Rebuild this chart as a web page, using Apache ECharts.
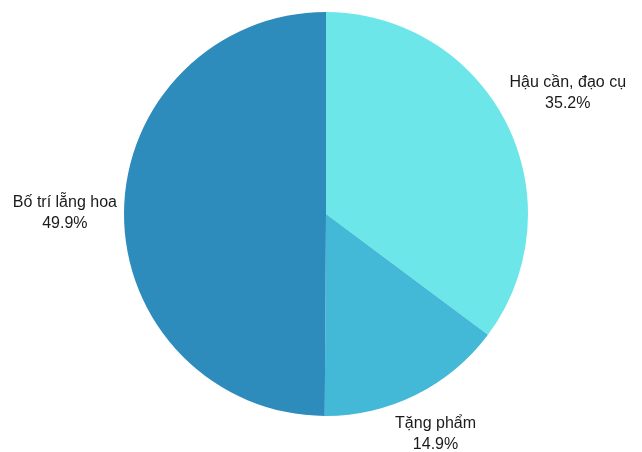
<!DOCTYPE html>
<html>
<head>
<meta charset="utf-8">
<script src="https://cdn.jsdelivr.net/npm/echarts@6/dist/echarts.min.js"></script>
<style>
  html, body { margin: 0; padding: 0; background: #fff; }
  #chart { width: 642px; height: 452px; }
</style>
</head>
<body>
<div id="chart"></div>
<script>
const categories = ['Hậu cần, đạo cụ', 'Tặng phẩm', 'Bố trí lẵng hoa'];
const shares = [35.2, 14.9, 49.9];
const colors = ['#6de6ea', '#43b8d7', '#2e8cbc'];

const cx = 326, cy = 214, r = 202;
const total = shares.reduce((a, b) => a + b, 0);

// mid angle of each slice, clockwise from 12 o'clock
const midAngles = [];
let acc = 0;
shares.forEach(v => {
  midAngles.push((acc + v / 2) / total * Math.PI * 2);
  acc += v;
});

const chart = echarts.init(document.getElementById('chart'));
chart.setOption({
  animation: false,
  color: colors,
  series: [{
    type: 'pie',
    center: [cx, cy],
    radius: r,
    startAngle: 90,
    clockwise: true,
    avoidLabelOverlap: false,
    data: categories.map((name, i) => ({ name, value: shares[i] })),
    label: {
      show: true,
      position: 'outside',
      formatter: p => p.name + '\n' + p.value.toFixed(1) + '%',
      fontFamily: 'Liberation Sans, Arial, sans-serif',
      fontSize: 16,
      lineHeight: 21,
      color: '#1a1a1a'
    },
    labelLine: { show: false },
    labelLayout: params => {
      const a = midAngles[params.dataIndex];
      const dx = Math.sin(a), dy = -Math.cos(a);
      const w = params.labelRect.width, h = params.labelRect.height;
      const d = r + 7 + w / 2 * Math.abs(dx) + h / 2 * Math.abs(dy);
      return { x: cx + d * dx, y: cy + d * dy, align: 'center', verticalAlign: 'middle' };
    },
    emphasis: { disabled: true }
  }]
});
</script>
</body>
</html>
